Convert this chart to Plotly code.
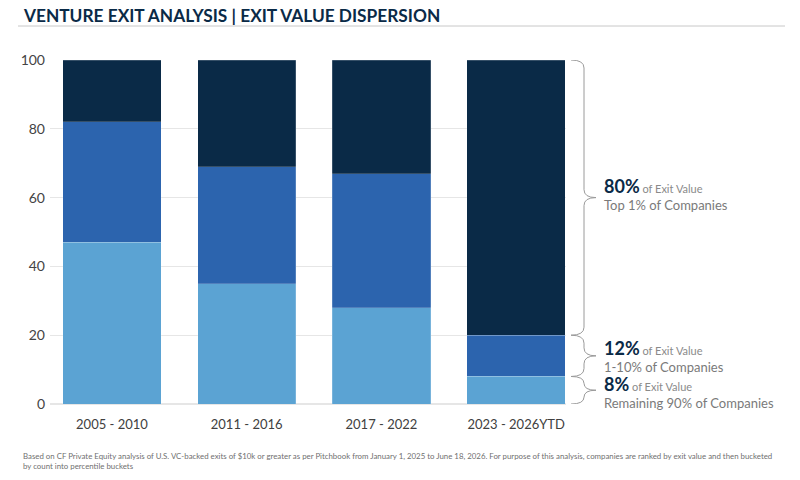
import plotly.graph_objects as go

# data (share of exit value, %)
periods = ['2005 - 2010', '2011 - 2016', '2017 - 2022', '2023 - 2026YTD']
bottom_90 = [47, 35, 28, 8]      # remaining 90% of companies
mid_1_10 = [35, 34, 39, 12]      # 1-10% of companies
top_1 = [18, 31, 33, 80]         # top 1% of companies

segment_names = ['Remaining 90%', '1-10%', 'Top 1%']
segment_colors = ['#5BA3D3', '#2C64AE', '#0A2A47']

callout_big = ['80%', '12%', '8%']
callout_sub = ['Top 1% of Companies', '1-10% of Companies', 'Remaining 90% of Companies']

title_text = 'VENTURE EXIT ANALYSIS | EXIT VALUE DISPERSION'
footnote = ('Based on CF Private Equity analysis of U.S. VC-backed exits of $10k or greater as per Pitchbook from '
            'January 1, 2025 to June 18, 2026. For purpose of this analysis, companies are ranked by exit value and then bucketed'
            '<br>by count into percentile buckets')

FONT = 'Lato'
W, H = 800, 480
ML, MR, MT, MB = 50, 234, 60, 76
PW, PH = W - ML - MR, H - MT - MB


def px_x(px):
    return (px - ML) / PW


def px_y(py):
    return (H - MB - py) / PH


fig = go.Figure()
for name, vals, col in zip(segment_names, [bottom_90, mid_1_10, top_1], segment_colors):
    fig.add_trace(go.Bar(
        x=periods, y=vals, name=name,
        marker=dict(color=col, line=dict(color='rgba(255,255,255,0.3)', width=0.6)),
        width=0.73, showlegend=False
    ))


# curly braces next to the last bar
def brace(y0, y1, x0=px_x(571), xv=px_x(584), xt=px_x(596)):
    r = min(8 / 3.44, abs(y1 - y0) / 4)
    ym = (y0 + y1) / 2
    return (f'M {x0},{y0} Q {xv},{y0} {xv},{y0 + r} '
            f'L {xv},{ym - r} Q {xv},{ym} {xt},{ym} '
            f'Q {xv},{ym} {xv},{ym + r} '
            f'L {xv},{y1 - r} Q {xv},{y1} {x0},{y1}')


last = [bottom_90[-1], mid_1_10[-1], top_1[-1]]
edges = [0, last[0], last[0] + last[1], sum(last)]
spans = [(edges[2], edges[3]), (edges[1], edges[2]), (edges[0], edges[1])]
for (a, b) in spans:
    fig.add_shape(type='path', path=brace(a, b), xref='paper', yref='y',
                  line=dict(color='#9a9a9a', width=1))

# label block offsets (px) from each brace tip
block_shift = [4, 0, -2]
for big, sub, (a, b), bs in zip(callout_big, callout_sub, spans, block_shift):
    ym = (a + b) / 2
    fig.add_annotation(
        x=px_x(602), y=ym, xref='paper', yref='y', xanchor='left', yanchor='middle', yshift=bs,
        showarrow=False, align='left',
        text=(f"<b><span style='font-size:18px;color:#0A2A47'>{big}</span></b>"
              f"<span style='font-size:11px;color:#8a8a8a'> of Exit Value</span><br>{sub}"),
        font=dict(family=FONT, size=13, color='#7a7a7a')
    )

# title and rule
fig.add_annotation(x=px_x(21), y=px_y(15), xref='paper', yref='paper', xanchor='left', yanchor='middle',
                   showarrow=False, text=f'<b>{title_text}</b>',
                   font=dict(family=FONT, size=17.3, color='#0A2A47'))
fig.add_shape(type='line', xref='paper', yref='paper', x0=px_x(18), x1=px_x(785), y0=px_y(26), y1=px_y(26),
              line=dict(color='#c8c8c8', width=1))

# footnote
fig.add_annotation(x=px_x(21), y=px_y(461), xref='paper', yref='paper', xanchor='left', yanchor='middle',
                   showarrow=False, align='left', text=footnote,
                   font=dict(family=FONT, size=7.85, color='#6f6f6f'))

fig.update_layout(
    barmode='stack',
    width=W, height=H,
    margin=dict(l=ML, r=MR, t=MT, b=MB),
    plot_bgcolor='white', paper_bgcolor='white',
    xaxis=dict(range=[-0.46, 3.37], showgrid=False, showline=False, ticks='',
               tickfont=dict(family=FONT, size=13, color='#404040'), ticklabelstandoff=11),
    yaxis=dict(range=[0, 100], dtick=20, showgrid=True, gridcolor='#e6e6e6', gridwidth=1,
               zeroline=True, zerolinecolor='#e6e6e6', zerolinewidth=2, showline=False,
               tickfont=dict(family=FONT, size=14, color='#444444'), ticklabelstandoff=4),
)

fig.write_html('out.html', config={'displayModeBar': False},
               post_script="document.body.style.margin='0';")
